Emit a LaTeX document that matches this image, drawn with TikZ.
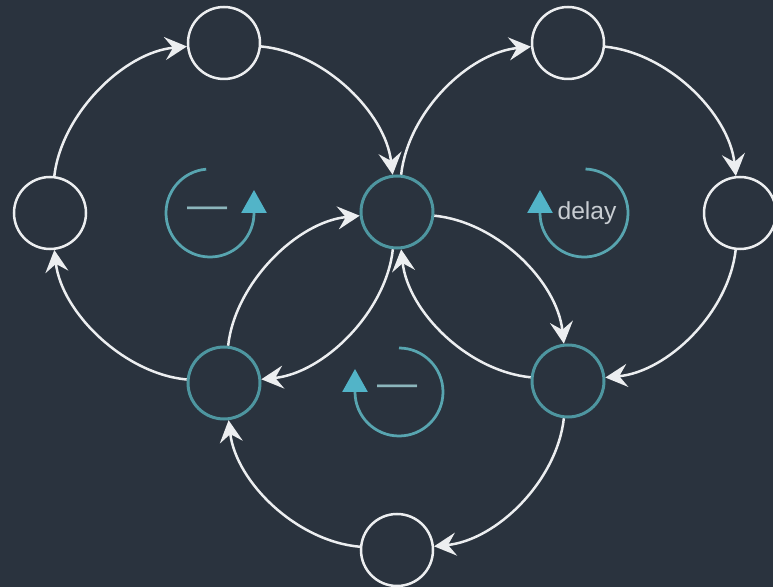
\documentclass[tikz,border=0pt]{standalone}
\usepackage{fontspec}
\setmainfont{Liberation Sans}
\usetikzlibrary{arrows.meta}

\definecolor{fondo}{RGB}{42,51,62}
\definecolor{blanco}{RGB}{236,238,240}
\definecolor{turquesa}{RGB}{78,150,160}
\definecolor{ciclocol}{RGB}{88,165,176}
\definecolor{puntacol}{RGB}{82,180,200}
\definecolor{guioncol}{RGB}{140,182,188}
\definecolor{textocol}{RGB}{200,205,210}

\begin{document}
\begin{tikzpicture}[
        every node/.style={
            circle,
            draw=blanco,
            line width=0.5mm,
            minimum size=14.4mm,
            inner sep=0pt
        },
        nodo/.style={draw=turquesa, line width=0.6mm},
        texto/.style={draw=none, rectangle, minimum size=0pt, inner sep=0pt},
        flecha/.style={
            draw=blanco,
            line width=0.5mm,
            bend left=39,
            distance=1.26cm,
            -{Stealth[length=4.4mm,width=4.6mm,inset=1.6mm]}
        },
        ciclo/.style={
            draw=ciclocol,
            line width=0.55mm,
            -{Triangle[length=4.6mm,width=5mm,fill=puntacol,color=puntacol]}
        },
        guion/.style={texto, text=guioncol, font=\fontsize{22.8}{24}\selectfont}
    ]

    \useasboundingbox (0,0) rectangle (15.46,11.74);
    \fill[fondo] (0,0) rectangle (15.46,11.74);

    % Nodos
    \node (n1) at (4.48,10.88) {};
    \node (n2) at (11.36,10.88) {};
    \node (n3) at (1.00,7.48) {};
    \node[nodo] (n4) at (7.94,7.50) {};
    \node (n5) at (14.80,7.48) {};
    \node[nodo] (n6) at (4.48,4.08) {};
    \node[nodo] (n7) at (11.36,4.12) {};
    \node (n8) at (7.94,0.74) {};

    % Arcos
    \draw[flecha] (n3) to (n1);
    \draw[flecha] (n1) to (n4);
    \draw[flecha] (n4) to (n2);
    \draw[flecha] (n2) to (n5);
    \draw[flecha] (n5) to (n7);
    \draw[flecha] (n7) to (n8);
    \draw[flecha] (n8) to (n6);
    \draw[flecha] (n6) to (n3);
    \draw[flecha] (n6) to (n4);
    \draw[flecha] (n4) to (n6);
    \draw[flecha] (n4) to (n7);
    \draw[flecha] (n7) to (n4);

    % Ciclos
    \coordinate (c1) at (4.20,7.48);
    \coordinate (c2) at (11.68,7.48);
    \coordinate (c3) at (7.98,3.90);

    \draw[ciclo] ([shift={(95:0.88)}]c1) arc[start angle=95, end angle=360, radius=0.88] -- ++(0,0.46);
    \draw[ciclo] ([shift={(88:0.88)}]c2) arc[start angle=88, end angle=-180, radius=0.88] -- ++(0,0.46);
    \draw[ciclo] ([shift={(90:0.88)}]c3) arc[start angle=90, end angle=-180, radius=0.88] -- ++(0,0.46);

    \node[guion] (g1) at (4.16,7.48) {—};
    \node[guion] (g3) at (7.95,3.92) {—};
    \node[texto, text=textocol, font=\fontsize{14}{16}\selectfont] (d2) at (11.74,7.48) {delay};

\end{tikzpicture}
\end{document}
